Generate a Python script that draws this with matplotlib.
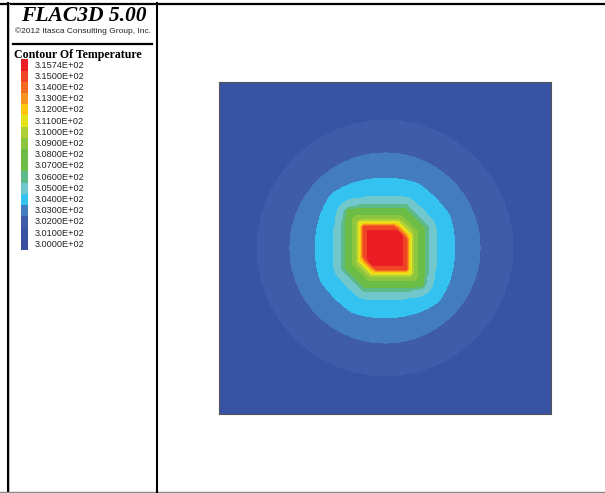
import numpy as np
import matplotlib.pyplot as plt

# legend entries, top to bottom
legend_values = [315.74, 315.0, 314.0, 313.0, 312.0, 311.0, 310.0, 309.0, 308.0,
                 307.0, 306.0, 305.0, 304.0, 303.0, 302.0, 301.0, 300.0]
legend_colors = ['#ec1c24', '#ef4524', '#f26a22', '#f7941d', '#fdc70e', '#e4e31c',
                 '#b0cf37', '#8cc63f', '#6bbd45', '#6bbd45', '#5fba8a', '#70c8cc',
                 '#34c3f1', '#437dc0', '#3e5ca9', '#3953a4', '#3a4c9e']

# temperature at a given distance from the heat source (model units, half width 5)
level_temps = [315.74, 315.0, 314.0, 313.0, 312.0, 311.0, 310.0, 309.0, 308.0,
               307.0, 306.0, 305.0, 304.0, 303.0, 302.0, 301.0, 300.0]
level_radius = [0.0, 0.62, 0.635, 0.655, 0.68, 0.74, 0.82, 0.86, 0.98,
                1.10, 1.22, 1.28, 1.54, 2.09, 2.86, 3.82, 7.2]

# nodal grid of the model
x = np.linspace(-5, 5, 81)
X, Y = np.meshgrid(x, x)
r_euc = np.hypot(X, Y)
r_box = np.maximum(np.maximum(np.abs(X), np.abs(Y)), 0.67 * np.abs(X + Y))
w = np.clip((2.6 - r_euc) / 1.2, 0, 1)
r_eff = w * r_box + (1 - w) * r_euc
T = np.interp(r_eff, level_radius, level_temps)

levels = sorted(legend_values)
band_colors = legend_colors[::-1][1:]

fig = plt.figure(figsize=(6.05, 4.93), dpi=100)

# frame and legend panel, drawn in pixel coordinates
bg = fig.add_axes([0, 0, 1, 1])
bg.set_xlim(0, 605)
bg.set_ylim(493, 0)
bg.axis('off')
bg.plot([0, 605], [3.5, 3.5], color='black', lw=1.6)
bg.plot([7.5, 7.5], [3, 492], color='black', lw=1.5)
bg.plot([9.2, 9.2], [4, 491], color='#bbbbbb', lw=0.7)
bg.plot([0, 605], [492, 492], color='#888888', lw=1.0)
bg.plot([157, 157], [3, 492], color='black', lw=1.5)
bg.plot([13, 152], [43.5, 43.5], color='black', lw=1.6)

bg.text(84, 16, 'FLAC3D 5.00', family='Liberation Serif', weight='bold',
        style='italic', size=15.5, ha='center', va='center')
bg.text(83, 31.5, '\u00a92012 Itasca Consulting Group, Inc.', family='Liberation Sans',
        size=6.0, ha='center', va='center', color='#222222')
bg.text(14, 55, 'Contour Of Temperature', family='Liberation Serif', weight='bold',
        size=8.6, ha='left', va='center')

for i, (v, c) in enumerate(zip(legend_values, legend_colors)):
    yc = 65 + 11.2 * i
    bg.add_patch(plt.Rectangle((21, yc - 5.6), 6.5, 11.2, color=c, lw=0))
    bg.text(35, yc, '%.4E' % v, family='Liberation Sans', size=6.6,
            ha='left', va='center', color='#222222')

# temperature contours
ax = fig.add_axes([219 / 605, (493 - 414) / 493, 332 / 605, 332 / 493])
ax.contourf(X, Y, T, levels=levels, colors=band_colors)
ax.set_xlim(-5, 5)
ax.set_ylim(-5, 5)
ax.set_xticks([])
ax.set_yticks([])
for s in ax.spines.values():
    s.set_color('#555555')
    s.set_linewidth(0.8)

fig.savefig('out.png', dpi=100)
